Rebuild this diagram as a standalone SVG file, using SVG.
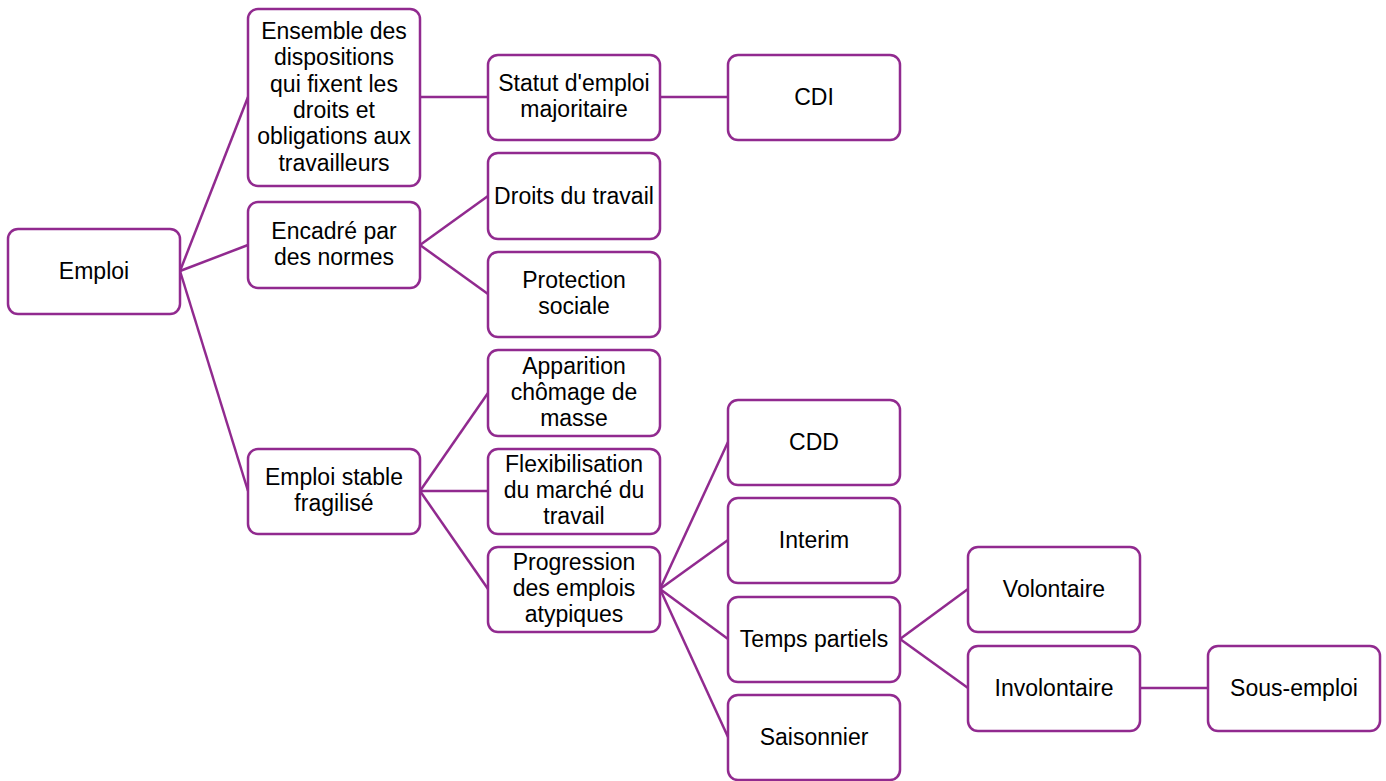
<svg xmlns="http://www.w3.org/2000/svg" width="1386" height="781" viewBox="0 0 1386 781">
<style>
.n rect{fill:#fff;stroke:#912A8F;stroke-width:2.5}
.n text{font-family:"Liberation Sans",Arial,sans-serif;font-size:23px;fill:#000;text-anchor:middle}
#edges line{stroke:#912A8F;stroke-width:2.5}
</style>
<rect width="1386" height="781" fill="#fff"/>
<g id="edges">
<line x1="180" y1="271" x2="248" y2="97"/>
<line x1="180" y1="271" x2="248" y2="245"/>
<line x1="180" y1="271" x2="248" y2="491"/>
<line x1="420" y1="97" x2="488" y2="97"/>
<line x1="660" y1="97" x2="728" y2="97"/>
<line x1="420" y1="245" x2="488" y2="196"/>
<line x1="420" y1="245" x2="488" y2="294"/>
<line x1="420" y1="491" x2="488" y2="393"/>
<line x1="420" y1="491" x2="488" y2="491"/>
<line x1="420" y1="491" x2="488" y2="589"/>
<line x1="660" y1="589" x2="728" y2="442"/>
<line x1="660" y1="589" x2="728" y2="540"/>
<line x1="660" y1="589" x2="728" y2="639"/>
<line x1="660" y1="589" x2="728" y2="737"/>
<line x1="900" y1="639" x2="968" y2="589"/>
<line x1="900" y1="639" x2="968" y2="688"/>
<line x1="1140" y1="688" x2="1208" y2="688"/>
</g>
<g id="emploi" class="n"><rect x="8" y="229" width="172" height="85" rx="10"/><text x="94" y="279">Emploi</text></g>
<g id="ensemble" class="n"><rect x="248" y="9" width="172" height="177" rx="10"/><text x="334" y="39"><tspan x="334">Ensemble des</tspan><tspan x="334" dy="26.3">dispositions</tspan><tspan x="334" dy="26.3">qui fixent les</tspan><tspan x="334" dy="26.3">droits et</tspan><tspan x="334" dy="26.3">obligations aux</tspan><tspan x="334" dy="26.3">travailleurs</tspan></text></g>
<g id="encadre" class="n"><rect x="248" y="202" width="172" height="86" rx="10"/><text x="334" y="239"><tspan x="334">Encadré par</tspan><tspan x="334" dy="26">des normes</tspan></text></g>
<g id="stable" class="n"><rect x="248" y="449" width="172" height="85" rx="10"/><text x="334" y="485"><tspan x="334">Emploi stable</tspan><tspan x="334" dy="26">fragilisé</tspan></text></g>
<g id="statut" class="n"><rect x="488" y="55" width="172" height="85" rx="10"/><text x="574" y="91"><tspan x="574">Statut d'emploi</tspan><tspan x="574" dy="26">majoritaire</tspan></text></g>
<g id="cdi" class="n"><rect x="728" y="55" width="172" height="85" rx="10"/><text x="814" y="105">CDI</text></g>
<g id="droits" class="n"><rect x="488" y="153" width="172" height="86" rx="10"/><text x="574" y="204">Droits du travail</text></g>
<g id="protection" class="n"><rect x="488" y="252" width="172" height="85" rx="10"/><text x="574" y="288"><tspan x="574">Protection</tspan><tspan x="574" dy="26">sociale</tspan></text></g>
<g id="apparition" class="n"><rect x="488" y="350" width="172" height="86" rx="10"/><text x="574" y="374"><tspan x="574">Apparition</tspan><tspan x="574" dy="26">chômage de</tspan><tspan x="574" dy="26">masse</tspan></text></g>
<g id="flexibilisation" class="n"><rect x="488" y="449" width="172" height="85" rx="10"/><text x="574" y="472"><tspan x="574">Flexibilisation</tspan><tspan x="574" dy="26">du marché du</tspan><tspan x="574" dy="26">travail</tspan></text></g>
<g id="progression" class="n"><rect x="488" y="547" width="172" height="85" rx="10"/><text x="574" y="570"><tspan x="574">Progression</tspan><tspan x="574" dy="26">des emplois</tspan><tspan x="574" dy="26">atypiques</tspan></text></g>
<g id="cdd" class="n"><rect x="728" y="400" width="172" height="85" rx="10"/><text x="814" y="450">CDD</text></g>
<g id="interim" class="n"><rect x="728" y="498" width="172" height="85" rx="10"/><text x="814" y="548">Interim</text></g>
<g id="temps" class="n"><rect x="728" y="597" width="172" height="85" rx="10"/><text x="814" y="647">Temps partiels</text></g>
<g id="saisonnier" class="n"><rect x="728" y="695" width="172" height="85" rx="10"/><text x="814" y="745">Saisonnier</text></g>
<g id="volontaire" class="n"><rect x="968" y="547" width="172" height="85" rx="10"/><text x="1054" y="597">Volontaire</text></g>
<g id="involontaire" class="n"><rect x="968" y="646" width="172" height="85" rx="10"/><text x="1054" y="696">Involontaire</text></g>
<g id="sousemploi" class="n"><rect x="1208" y="646" width="172" height="85" rx="10"/><text x="1294" y="696">Sous-emploi</text></g>
</svg>
